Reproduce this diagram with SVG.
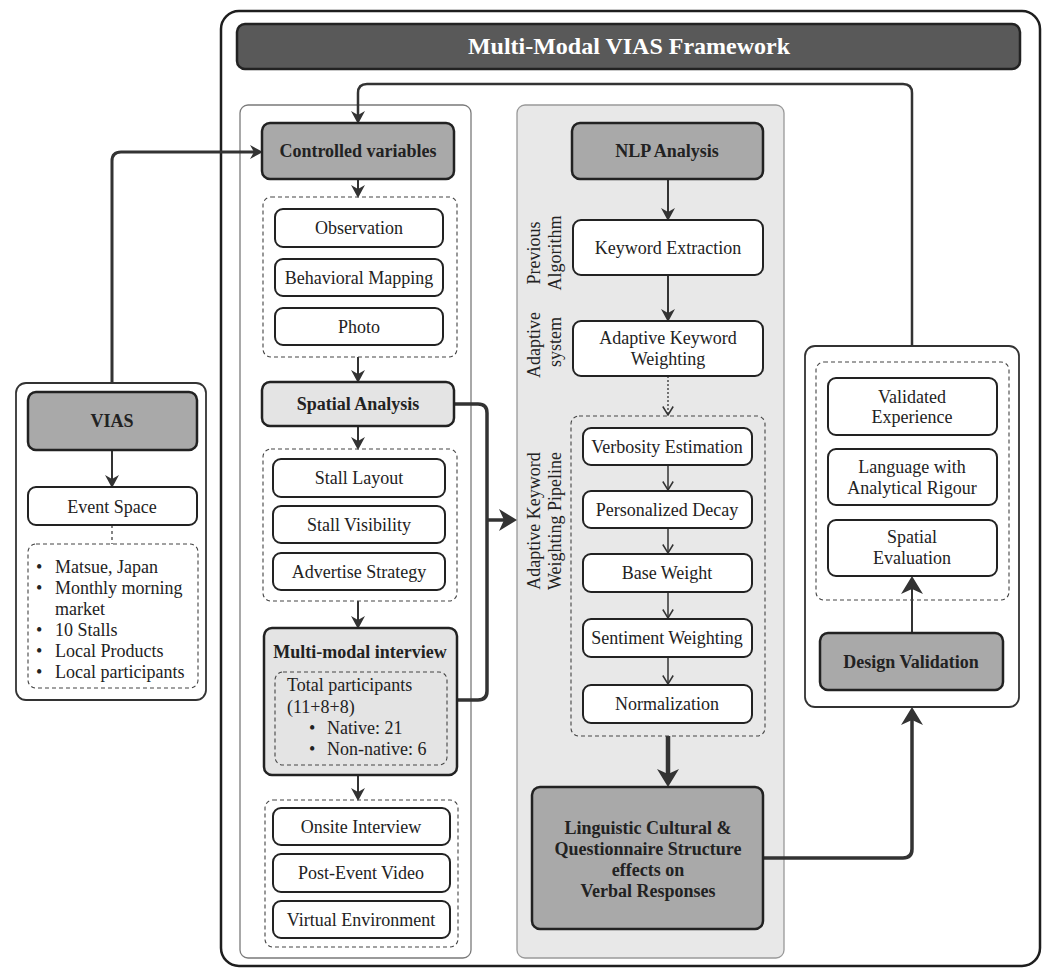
<svg xmlns="http://www.w3.org/2000/svg" width="1046" height="970" viewBox="0 0 1046 970">
<defs>
<style>
text{font-family:"Liberation Serif","Times New Roman",serif;font-size:18px;fill:#222;}
.c{text-anchor:middle;}
.b{font-weight:bold;}
.frame{fill:#fff;stroke:#1e1e1e;stroke-width:2.5;}
.panel{fill:#fff;stroke:#7a7a7a;stroke-width:1.3;}
.mpanel{fill:#e8e8e8;stroke:#999;stroke-width:1.3;}
.rpanel{fill:#fff;stroke:#333;stroke-width:1.8;}
.hdr{fill:#a9a9a9;stroke:#222;stroke-width:2.5;}
.lt{fill:#e4e4e4;stroke:#222;stroke-width:2.5;}
.box{fill:#fff;stroke:#222;stroke-width:2;}
.dash{fill:none;stroke:#444;stroke-width:1.1;stroke-dasharray:4 3;}
.ln{fill:none;stroke:#333;stroke-linejoin:round;}
</style>
<marker id="mA" viewBox="0 0 13 14" refX="4" refY="7" markerWidth="13" markerHeight="14" orient="auto" markerUnits="userSpaceOnUse"><path d="M0,0 L13,7 L0,14 L4,7 z" fill="#333"/></marker>
<marker id="mB" viewBox="0 0 18 22" refX="6" refY="11" markerWidth="18" markerHeight="22" orient="auto" markerUnits="userSpaceOnUse"><path d="M0,0 L18,11 L0,22 L5,11 z" fill="#333"/></marker>
<marker id="mV" viewBox="0 0 10 12" refX="9" refY="6" markerWidth="10" markerHeight="12" orient="auto" markerUnits="userSpaceOnUse"><path d="M0.5,0.8 L9,6 L0.5,11.2" fill="none" stroke="#333" stroke-width="1.5"/></marker>
</defs>

<g id="frame">
<rect class="frame" x="221" y="11" width="819" height="955" rx="18"/>
</g>
<g id="title">
<rect x="237" y="24" width="783" height="45" rx="8" fill="#595959" stroke="#222" stroke-width="2.5"/>
<text class="c b" x="629" y="54" style="font-size:24px;fill:#fff">Multi-Modal VIAS Framework</text>
</g>

<g id="panels">
<rect class="panel" x="240" y="105" width="231" height="853" rx="8"/>
<rect class="mpanel" x="517" y="105" width="267" height="853" rx="8"/>
<rect class="rpanel" x="805" y="346" width="214" height="361" rx="10"/>
<rect class="rpanel" x="16" y="383" width="190" height="317" rx="10"/>
</g>

<g id="connectors">
<path class="ln" d="M112,383 V161 Q112,152 121,152 H254" stroke-width="3" marker-end="url(#mA)"/>
<path class="ln" d="M912,346 V93 Q912,84 903,84 H367 Q358,84 358,93 V115" stroke-width="2.5" marker-end="url(#mA)"/>
<path class="ln" d="M358,179 V189" stroke-width="2" marker-end="url(#mA)"/>
<path class="ln" d="M358,357 V374" stroke-width="2" marker-end="url(#mA)"/>
<path class="ln" d="M358,426 V441" stroke-width="2" marker-end="url(#mA)"/>
<path class="ln" d="M358,601 V620" stroke-width="2" marker-end="url(#mA)"/>
<path class="ln" d="M358,775 V792" stroke-width="2" marker-end="url(#mA)"/>
<path class="ln" d="M454,404 H478 Q487,404 487,413 V691 Q487,700 478,700 H457" stroke-width="3.5"/>
<path class="ln" d="M487,520 H505" stroke-width="3.5" marker-end="url(#mB)"/>
<path class="ln" d="M112,450 V479" stroke-width="2" marker-end="url(#mA)"/>
<path class="ln" d="M112,525 V544" stroke-width="1.2" stroke-dasharray="3 3" stroke="#777"/>
<path class="ln" d="M668,179 V212" stroke-width="2" marker-end="url(#mA)"/>
<path class="ln" d="M668,275 V313" stroke-width="2" marker-end="url(#mA)"/>
<path class="ln" d="M668,376 V415" stroke-width="1.3" stroke-dasharray="2 2" marker-end="url(#mV)"/>
<path class="ln" d="M668,465 V490" stroke-width="1.5" marker-end="url(#mV)"/>
<path class="ln" d="M668,528 V553" stroke-width="1.5" marker-end="url(#mV)"/>
<path class="ln" d="M668,592 V618" stroke-width="1.5" marker-end="url(#mV)"/>
<path class="ln" d="M668,657 V684" stroke-width="1.5" marker-end="url(#mV)"/>
<path class="ln" d="M668,736 V775" stroke-width="4.5" marker-end="url(#mB)"/>
<path class="ln" d="M763,858 H903 Q912,858 912,849 V719" stroke-width="3.5" marker-end="url(#mB)"/>
<path class="ln" d="M912,633 V588" stroke-width="2" marker-end="url(#mB)"/>
</g>

<g id="controlled-variables">
<rect class="hdr" x="262" y="123" width="192" height="56" rx="8"/>
<text class="c b" x="358" y="157">Controlled variables</text>
</g>
<g id="cv-group">
<rect class="dash" x="263" y="197" width="194" height="160" rx="8"/>
</g>
<g id="observation"><rect class="box" x="275" y="209" width="168" height="38" rx="8"/><text class="c" x="359" y="234">Observation</text></g>
<g id="behavioral-mapping"><rect class="box" x="275" y="259" width="168" height="37" rx="8"/><text class="c" x="359" y="284">Behavioral Mapping</text></g>
<g id="photo"><rect class="box" x="275" y="308" width="168" height="37" rx="8"/><text class="c" x="359" y="333">Photo</text></g>

<g id="spatial-analysis">
<rect class="lt" x="262" y="382" width="192" height="44" rx="8"/>
<text class="c b" x="358" y="410">Spatial Analysis</text>
</g>
<g id="sa-group"><rect class="dash" x="263" y="449" width="194" height="152" rx="8"/></g>
<g id="stall-layout"><rect class="box" x="273" y="459" width="172" height="38" rx="8"/><text class="c" x="359" y="484">Stall Layout</text></g>
<g id="stall-visibility"><rect class="box" x="273" y="506" width="172" height="37" rx="8"/><text class="c" x="359" y="531">Stall Visibility</text></g>
<g id="advertise-strategy"><rect class="box" x="273" y="553" width="172" height="37" rx="8"/><text class="c" x="359" y="578">Advertise Strategy</text></g>

<g id="multi-modal-interview">
<rect class="lt" x="264" y="628" width="193" height="147" rx="8"/>
<text class="c b" x="360" y="658">Multi-modal interview</text>
<rect class="dash" x="275" y="672" width="172" height="93" rx="8"/>
<text x="287" y="691">Total participants</text>
<text x="287" y="713">(11+8+8)</text>
<text x="309" y="734">•</text><text x="327" y="734">Native: 21</text>
<text x="309" y="755">•</text><text x="327" y="755">Non-native: 6</text>
</g>
<g id="mm-group"><rect class="dash" x="265" y="800" width="193" height="147" rx="8"/></g>
<g id="onsite-interview"><rect class="box" x="273" y="808" width="177" height="37" rx="8"/><text class="c" x="361" y="833">Onsite Interview</text></g>
<g id="post-event-video"><rect class="box" x="273" y="854" width="177" height="38" rx="8"/><text class="c" x="361" y="879">Post-Event Video</text></g>
<g id="virtual-environment"><rect class="box" x="273" y="901" width="177" height="37" rx="8"/><text class="c" x="361" y="926">Virtual Environment</text></g>

<g id="nlp-analysis">
<rect class="hdr" x="572" y="123" width="191" height="56" rx="8"/>
<text class="c b" x="667" y="157">NLP Analysis</text>
</g>
<g id="label-previous"><text class="c" transform="translate(540,253) rotate(-90)">Previous<tspan x="0" dy="21">Algorithm</tspan></text></g>
<g id="keyword-extraction"><rect class="box" x="573" y="220" width="190" height="55" rx="8"/><text class="c" x="668" y="254">Keyword Extraction</text></g>
<g id="label-adaptive"><text class="c" transform="translate(540,345) rotate(-90)">Adaptive<tspan x="3" dy="21">system</tspan></text></g>
<g id="adaptive-keyword-weighting"><rect class="box" x="573" y="321" width="190" height="55" rx="8"/><text class="c" x="668" y="344">Adaptive Keyword<tspan x="668" dy="21">Weighting</tspan></text></g>
<g id="label-pipeline"><text class="c" transform="translate(540,521) rotate(-90)">Adaptive Keyword<tspan x="0" dy="21">Weighting Pipeline</tspan></text></g>
<g id="pipeline"><rect class="dash" x="571" y="416" width="194" height="320" rx="8"/></g>
<g id="verbosity-estimation"><rect class="box" x="583" y="428" width="169" height="37" rx="8"/><text class="c" x="667" y="453">Verbosity Estimation</text></g>
<g id="personalized-decay"><rect class="box" x="583" y="491" width="169" height="37" rx="8"/><text class="c" x="667" y="516">Personalized Decay</text></g>
<g id="base-weight"><rect class="box" x="583" y="554" width="169" height="38" rx="8"/><text class="c" x="667" y="579">Base Weight</text></g>
<g id="sentiment-weighting"><rect class="box" x="583" y="619" width="169" height="38" rx="8"/><text class="c" x="667" y="644">Sentiment Weighting</text></g>
<g id="normalization"><rect class="box" x="583" y="685" width="169" height="38" rx="8"/><text class="c" x="667" y="710">Normalization</text></g>
<g id="linguistic-effects">
<rect class="hdr" x="532" y="787" width="231" height="142" rx="8"/>
<text class="c b" x="648" y="834">Linguistic Cultural &amp;<tspan x="648" dy="21">Questionnaire Structure</tspan><tspan x="648" dy="20.5">effects on</tspan><tspan x="648" dy="21">Verbal Responses</tspan></text>
</g>

<g id="validation-group"><rect class="dash" x="816" y="362" width="193" height="238" rx="8"/></g>
<g id="validated-experience"><rect class="box" x="828" y="378" width="169" height="57" rx="8"/><text class="c" x="912" y="403">Validated<tspan x="912" dy="20">Experience</tspan></text></g>
<g id="language-rigour"><rect class="box" x="828" y="449" width="169" height="56" rx="8"/><text class="c" x="912" y="473">Language with<tspan x="912" dy="21">Analytical Rigour</tspan></text></g>
<g id="spatial-evaluation"><rect class="box" x="828" y="520" width="169" height="56" rx="8"/><text class="c" x="912" y="543">Spatial<tspan x="912" dy="21">Evaluation</tspan></text></g>
<g id="design-validation"><rect class="hdr" x="820" y="633" width="183" height="57" rx="8"/><text class="c b" x="911" y="668">Design Validation</text></g>

<g id="vias"><rect class="hdr" x="28" y="392" width="169" height="58" rx="8"/><text class="c b" x="112" y="427">VIAS</text></g>
<g id="event-space"><rect class="box" x="28" y="487" width="169" height="38" rx="8"/><text class="c" x="112" y="513">Event Space</text></g>
<g id="event-details">
<rect class="dash" x="28" y="544" width="170" height="144" rx="8"/>
<text x="36" y="573">•</text><text x="55" y="573">Matsue, Japan</text>
<text x="36" y="594">•</text><text x="55" y="594">Monthly morning</text>
<text x="55" y="615">market</text>
<text x="36" y="636">•</text><text x="55" y="636">10 Stalls</text>
<text x="36" y="657">•</text><text x="55" y="657">Local Products</text>
<text x="36" y="678">•</text><text x="55" y="678">Local participants</text>
</g>
</svg>
